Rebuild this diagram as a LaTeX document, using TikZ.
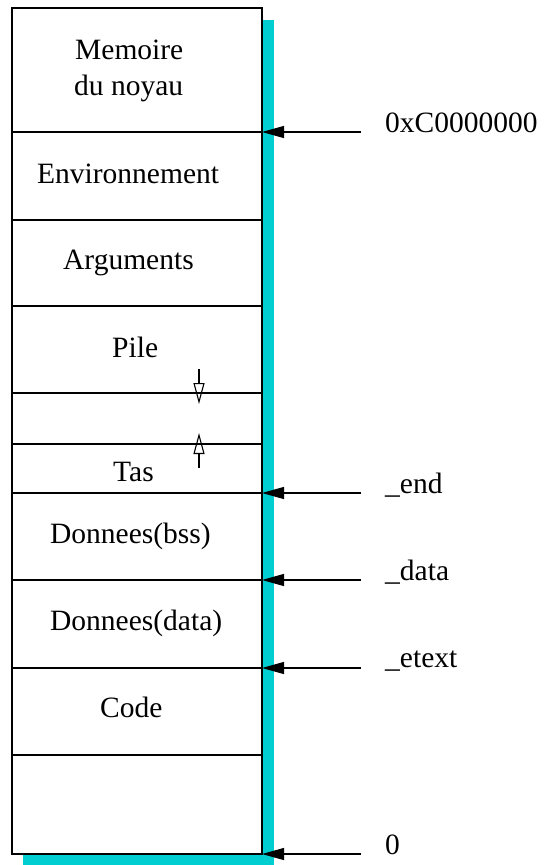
\documentclass[tikz,border=0pt]{standalone}
\usepackage{fontspec}
\setmainfont{Liberation Serif}
\usetikzlibrary{arrows.meta}
\definecolor{shadowcyan}{RGB}{0,206,209}
\begin{document}
\begin{tikzpicture}[x=1pt,y=-1pt,
  lbl/.style={anchor=base west,inner sep=0pt,font=\fontsize{29.5}{35}\selectfont},
  sepline/.style={line width=1.1pt},
  addrarrow/.style={line width=1.1pt,-{Triangle[length=22pt,width=12pt]}},
  growarrow/.style={line width=1.1pt,-{Triangle[open,length=21pt,width=11pt]}}]
\useasboundingbox (0,0) rectangle (544,865);
% shadow
\fill[shadowcyan] (23,20) rectangle (274,865);
% main box
\draw[sepline,fill=white] (12,8) rectangle (262,854);
% separators
\foreach \yy/\nm in {132/a,220/b,306/c,393/d,444/e,493/f,580/g,668/h,755/i}{
  \coordinate (L\nm) at (12,\yy);
  \coordinate (R\nm) at (262,\yy);
  \draw[sepline] (L\nm) -- (R\nm);
}
\coordinate (Rz) at (262,854);
% texts in box
\node[lbl] (mem) at (75,59) {Memoire};
\node[lbl] (noy) at (74,95) {du noyau};
\node[lbl] (env) at (37,183) {Environnement};
\node[lbl] (arg) at (63,269) {Arguments};
\node[lbl] (pile) at (112,357) {Pile};
\node[lbl] (tas) at (113,481) {Tas};
\node[lbl] (bss) at (50,543) {Donnees(bss)};
\node[lbl] (dat) at (50,630) {Donnees(data)};
\node[lbl] (code) at (100,717) {Code};
% growth arrows
\coordinate (pa) at (199,369);
\coordinate (pb) at (199,404);
\coordinate (ta) at (199,468);
\coordinate (tb) at (199,433);
\draw[growarrow] (pa) -- (pb);
\draw[growarrow] (ta) -- (tb);
% address arrows and labels
\coordinate (sa) at (361,132);
\coordinate (sf) at (361,493);
\coordinate (sg) at (361,580);
\coordinate (sh) at (361,668);
\coordinate (sz) at (361,854);
\draw[addrarrow] (sa) -- (Ra);
\draw[addrarrow] (sf) -- (Rf);
\draw[addrarrow] (sg) -- (Rg);
\draw[addrarrow] (sh) -- (Rh);
\draw[addrarrow] (sz) -- (Rz);
\node[lbl] (la) at (385,132) {0xC0000000};
\node[lbl] (lf) at (385,493) {\_end};
\node[lbl] (lg) at (385,580) {\_data};
\node[lbl] (lh) at (385,667) {\_etext};
\node[lbl] (lz) at (385,854) {0};
\end{tikzpicture}
\end{document}
